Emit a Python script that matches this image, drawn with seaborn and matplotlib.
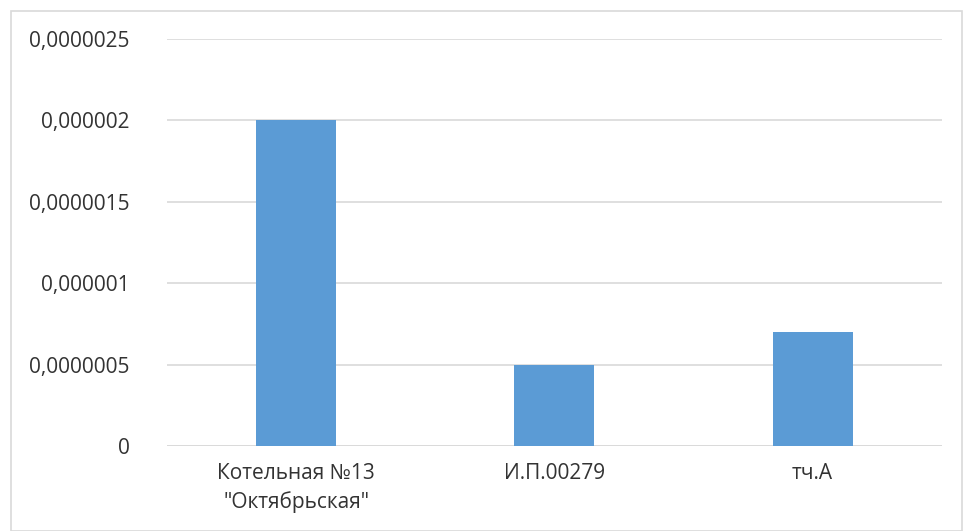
import matplotlib
matplotlib.use("Agg")
import matplotlib.pyplot as plt
import seaborn as sns
import pandas as pd
from matplotlib.patches import Rectangle
from matplotlib.ticker import FixedLocator, FixedFormatter

# ---------------- DATA ----------------
categories = ['Котельная №13\n"Октябрьская"', "И.П.00279", "тч.А"]
values = [0.000002, 0.0000005, 0.0000007]
y_ticks = [0, 0.0000005, 0.000001, 0.0000015, 0.000002, 0.0000025]
y_tick_labels = ["0", "0,0000005", "0,000001", "0,0000015", "0,000002", "0,0000025"]

df = pd.DataFrame({"place": categories, "value": values})

# ---------------- STYLE ----------------
sns.set_theme(style="white")
plt.rcParams["font.family"] = ["Open Sans", "DejaVu Sans"]

fig = plt.figure(figsize=(9.64, 5.31), dpi=100)
ax = fig.add_axes([0.1732, 0.160, 0.8038, 0.7666])

sns.barplot(data=df, x="place", y="value", color="#5B9BD5", width=0.31,
            saturation=1, linewidth=0, ax=ax)

ax.set_ylim(0, 0.0000025)
ax.set_xlim(-0.5, 2.5)
ax.yaxis.set_major_locator(FixedLocator(y_ticks))
ax.yaxis.set_major_formatter(FixedFormatter(y_tick_labels))
ax.grid(axis="y", color="#D9D9D9", linewidth=1.2)
ax.set_axisbelow(True)
ax.set_xlabel("")
ax.set_ylabel("")
for s in ax.spines.values():
    s.set_visible(False)
ax.tick_params(axis="both", length=0, labelsize=15, colors="#333333")
ax.tick_params(axis="y", pad=27)
ax.tick_params(axis="x", pad=12)
for lbl in ax.get_xticklabels():
    lbl.set_linespacing(1.45)
ax.axhline(0, color="#D9D9D9", linewidth=1.2, zorder=0)

# outer chart border
fig.patches.append(Rectangle((0.011, 0.0), 0.987, 0.979, transform=fig.transFigure,
                             fill=False, edgecolor="#D9D9D9", linewidth=1.2))

fig.savefig("out.png", dpi=100)
